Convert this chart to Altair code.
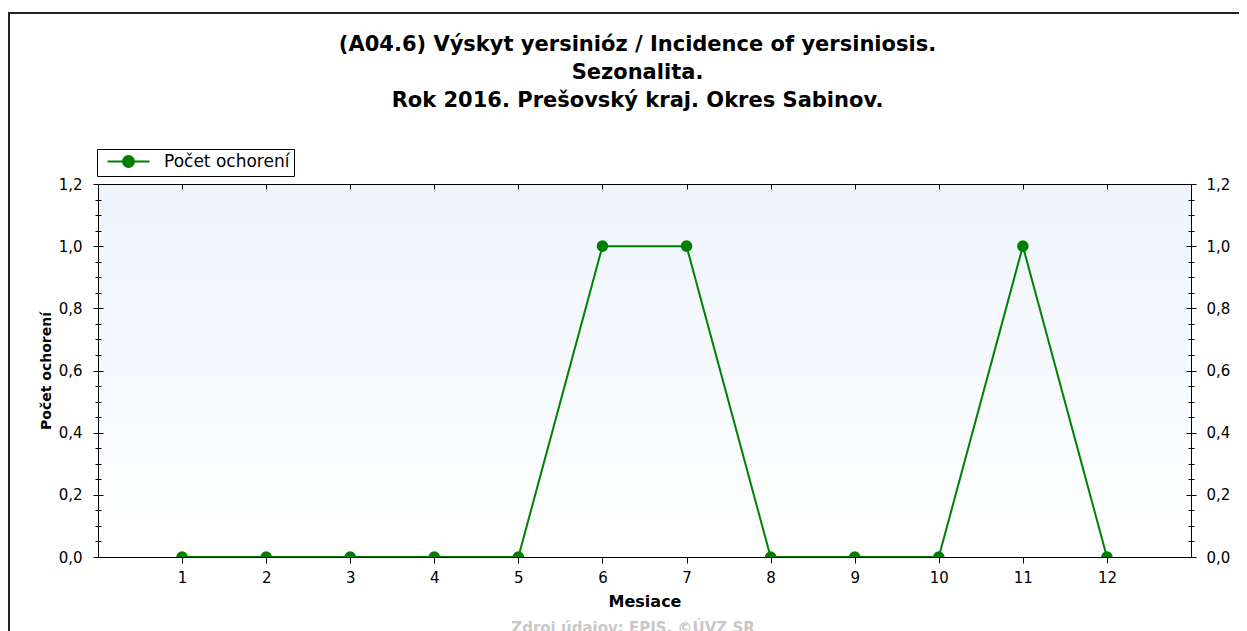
import altair as alt
import pandas as pd

# ---- data ----
months = [1, 2, 3, 4, 5, 6, 7, 8, 9, 10, 11, 12]
cases = [0, 0, 0, 0, 0, 1, 1, 0, 0, 0, 1, 0]
series_name = "Počet ochorení"
y_major = [0.0, 0.2, 0.4, 0.6, 0.8, 1.0, 1.2]
y_minor = [0.05, 0.1, 0.15, 0.25, 0.3, 0.35, 0.45, 0.5, 0.55, 0.65, 0.7, 0.75,
           0.85, 0.9, 0.95, 1.05, 1.1, 1.15]
title_lines = ["(A04.6) Výskyt yersinióz / Incidence of yersiniosis.",
               "Sezonalita.",
               "Rok 2016. Prešovský kraj. Okres Sabinov."]
x_title = "Mesiace"
y_title = "Počet ochorení"
source_text = "Zdroj údajov: EPIS, ©ÚVZ SR"

df = pd.DataFrame({"month": months, "cases": cases, "series": [series_name] * len(months)})

GREEN = "#008000"
FONT = "DejaVu Sans"
W, H = 1093, 373
LBL = "replace(format(datum.value, '.1f'), '.', ',')"

xs = alt.Scale(domain=[0, 13], nice=False, zero=False)
ys = alt.Scale(domain=[0, 1.2], nice=False, zero=True)

base = alt.Chart(df)

# background gradient of the plot area
bg = alt.Chart(alt.Data(values=[{}])).mark_rect(
    fill=alt.Gradient(gradient="linear", x1=0, x2=0, y1=0, y2=1,
                      stops=[alt.GradientStop(color="#EDF4FD", offset=0),
                             alt.GradientStop(color="#FFFFFF", offset=1)])
).encode(x=alt.value(0), x2=alt.value(W), y=alt.value(0), y2=alt.value(H))

# outer frame
frame = alt.Chart(alt.Data(values=[{}])).mark_rect(
    fill=None, stroke="#222222", strokeWidth=2
).encode(x=alt.value(-89), x2=alt.value(W + 200), y=alt.value(-171), y2=alt.value(H + 300))

src = alt.Chart(alt.Data(values=[{}])).mark_text(
    font=FONT, fontSize=15, fontWeight="bold", color="#C8C8C8", baseline="top"
).encode(x=alt.value(535), y=alt.value(H + 64), text=alt.value(source_text))

common_axis = dict(domainColor="black", tickColor="black", labelColor="black",
                   grid=False, labelFont=FONT, titleFont=FONT, zindex=2)

line = base.mark_line(color=GREEN, strokeWidth=2, clip=True).encode(
    x=alt.X("month:Q", scale=xs,
            axis=alt.Axis(values=months, title=x_title, tickSize=6, labelPadding=7,
                          labelFontSize=15, titleFontSize=16, titleFontWeight="bold",
                          titlePadding=8, **common_axis)),
    y=alt.Y("cases:Q", scale=ys,
            axis=alt.Axis(values=y_major, title=y_title, tickSize=5, labelPadding=11,
                          labelExpr=LBL, labelFontSize=15, titleFontSize=14,
                          titleFontWeight="bold", titlePadding=5, **common_axis)),
)

pts = base.mark_circle(size=135, opacity=1, clip=True).encode(
    x=alt.X("month:Q", scale=xs, axis=None),
    y=alt.Y("cases:Q", scale=ys, axis=None),
    color=alt.Color("series:N", scale=alt.Scale(range=[GREEN]),
                    legend=alt.Legend(
                        orient="none", legendX=-1, legendY=-35, title=None,
                        symbolType="M-0.33,0H6.67M4.09,0A0.92,0.92,0,1,1,2.25,0A0.92,0.92,0,1,1,4.09,0Z",
                        symbolSize=144, symbolStrokeColor=GREEN, symbolFillColor=GREEN,
                        symbolStrokeWidth=2, symbolOpacity=1,
                        labelFont=FONT, labelFontSize=17, labelColor="black",
                        labelOffset=46, strokeColor="black", padding=4,
                        fillColor="white")),
)


def ghost(xaxis, yaxis):
    return base.mark_point(opacity=0).encode(
        x=alt.X("month:Q", scale=xs, axis=xaxis),
        y=alt.Y("cases:Q", scale=ys, axis=yaxis),
    )


g_top_right = ghost(
    alt.Axis(orient="bottom", offset=-H, values=months, labels=False, tickSize=5,
             title=None, **common_axis),
    alt.Axis(orient="right", values=y_major, title=None, tickSize=5, labelPadding=10,
             labelExpr=LBL, labelFontSize=15, **common_axis),
)
g_left_in = ghost(None, alt.Axis(orient="right", offset=-W, values=y_major, labels=False,
                                 tickSize=5, domain=False, title=None, **common_axis))
g_right_in = ghost(None, alt.Axis(orient="left", offset=-W, values=y_major, labels=False,
                                  tickSize=5, domain=False, title=None, **common_axis))
g_lmin_out = ghost(None, alt.Axis(orient="left", values=y_minor, labels=False,
                                  tickSize=3, domain=False, title=None, **common_axis))
g_rmin_out = ghost(None, alt.Axis(orient="right", values=y_minor, labels=False,
                                  tickSize=3, domain=False, title=None, **common_axis))
g_lmin_in = ghost(None, alt.Axis(orient="right", offset=-W, values=y_minor, labels=False,
                                 tickSize=3, domain=False, title=None, **common_axis))
g_rmin_in = ghost(None, alt.Axis(orient="left", offset=-W, values=y_minor, labels=False,
                                 tickSize=3, domain=False, title=None, **common_axis))

chart = alt.layer(
    bg, frame, line, pts, g_top_right, g_left_in, g_right_in,
    g_lmin_out, g_rmin_out, g_lmin_in, g_rmin_in, src
).resolve_axis(x="independent", y="independent").resolve_scale(
    x="shared", y="shared"
).properties(
    width=W, height=H,
    autosize=alt.AutoSizeParams(type="none"),
    padding={"left": 90, "top": 176, "right": 48, "bottom": 90},
    title=alt.TitleParams(text=title_lines, font=FONT, fontSize=21, fontWeight="bold",
                          color="black", anchor="middle", lineHeight=28, offset=-99,
                          dx=-7),
).configure_view(stroke=None)

chart.save("out.html", embed_options={"renderer": "svg", "actions": False})
